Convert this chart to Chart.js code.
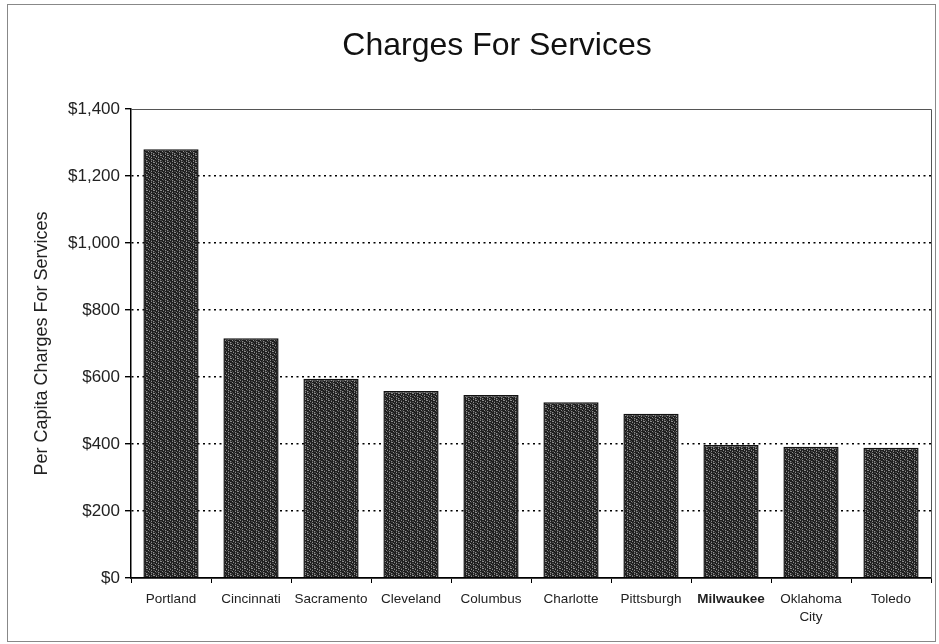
<!DOCTYPE html>
<html>
<head>
<meta charset="utf-8">
<script src="https://cdn.jsdelivr.net/npm/chart.js@4.4.1/dist/chart.umd.min.js"></script>
<style>
  html, body { margin: 0; padding: 0; background: #fff; }
  #wrap { width: 939px; height: 644px; }
</style>
</head>
<body>
<div id="wrap"><canvas id="c" width="939" height="644"></canvas></div>
<script>
const chartTitle = 'Charges For Services';
const categories = ["Portland", "Cincinnati", "Sacramento", "Cleveland", "Columbus", "Charlotte", "Pittsburgh", "Milwaukee", ["Oklahoma", "City"], "Toledo"];
const values = [1280, 716, 595, 558, 546, 525, 490, 397, 392, 389];
const yTicks = [0, 200, 400, 600, 800, 1000, 1200, 1400];
const highlightIndex = 7;

function makePattern() {
  const p = document.createElement('canvas');
  p.width = 7; p.height = 7;
  const g = p.getContext('2d');
  const map = [
    "dmddldm",
    "ldmdddl",
    "ddldmdd",
    "mdddldm",
    "dldmddd",
    "ddmdlmd",
    "mdddmdl"
  ];
  const col = { d: '#1e1e1e', m: '#4a4a4a', l: '#8e8e8e' };
  for (let y = 0; y < 7; y++) for (let x = 0; x < 7; x++) {
    g.fillStyle = col[map[y][x]];
    g.fillRect(x, y, 1, 1);
  }
  return g.createPattern(p, 'repeat');
}

const frame = {
  id: 'frame',
  beforeDraw(chart) {
    const ctx = chart.ctx;
    ctx.save();
    ctx.fillStyle = '#fff';
    ctx.fillRect(0, 0, chart.width, chart.height);
    ctx.strokeStyle = '#888';
    ctx.lineWidth = 1;
    ctx.strokeRect(7.5, 4.5, 928, 637);
    ctx.fillStyle = '#111';
    ctx.font = 'normal 32px "Liberation Sans", Arial, sans-serif';
    ctx.textAlign = 'center';
    ctx.textBaseline = 'middle';
    ctx.fillText(chartTitle, 497, 46);
    ctx.restore();
  },
  afterDatasetsDraw(chart) {
    const a = chart.chartArea;
    const ctx = chart.ctx;
    ctx.save();
    ctx.strokeStyle = '#555';
    ctx.lineWidth = 1;
    ctx.beginPath();
    ctx.moveTo(a.left, a.top + 0.5);
    ctx.lineTo(a.right + 0.5, a.top + 0.5);
    ctx.lineTo(a.right + 0.5, a.bottom);
    ctx.stroke();
    ctx.restore();
  }
};

new Chart(document.getElementById('c'), {
  type: 'bar',
  data: {
    labels: categories,
    datasets: [{
      data: values,
      backgroundColor: makePattern(),
      borderColor: '#111',
      borderWidth: 1.5,
      barPercentage: 0.69,
      categoryPercentage: 1.0
    }]
  },
  plugins: [frame],
  options: {
    responsive: false,
    animation: false,
    layout: { padding: { top: 109, left: 10, right: 8, bottom: 10 } },
    plugins: {
      legend: { display: false },
      tooltip: { enabled: false },
      title: { display: false }
    },
    scales: {
      x: {
        afterFit(scale) { scale.height = 56; },
        grid: { drawOnChartArea: false, offset: true, tickLength: 5, color: '#000', tickColor: '#000' },
        border: { color: '#000', width: 1.8 },
        ticks: {
          color: '#222',
          padding: 7,
          maxRotation: 0,
          autoSkip: false,
          font: (ctx) => ({ family: 'Liberation Sans, Arial, sans-serif', size: 13.5, weight: ctx.index === highlightIndex ? 'bold' : 'normal', lineHeight: 1.35 })
        }
      },
      y: {
        min: 0,
        max: 1400,
        afterFit(scale) { scale.width = 121; },
        afterBuildTicks(scale) { scale.ticks = yTicks.map(v => ({ value: v })); },
        grid: {
          color: (ctx) => (ctx.tick && (ctx.tick.value === 0 || ctx.tick.value === 1400)) ? 'rgba(0,0,0,0)' : '#000',
          tickColor: '#000',
          lineWidth: 1.4,
          tickLength: 6
        },
        border: { color: '#000', width: 1.5, dash: [2, 3.5] },
        ticks: {
          color: '#222',
          padding: 5,
          font: { family: 'Liberation Sans, Arial, sans-serif', size: 17 },
          callback: (v) => '$' + Number(v).toLocaleString('en-US')
        },
        title: {
          display: true,
          text: 'Per Capita Charges For Services',
          color: '#222',
          font: { family: 'Liberation Sans, Arial, sans-serif', size: 18 },
          padding: { top: 21, bottom: 0 }
        }
      }
    }
  }
});
</script>
</body>
</html>
